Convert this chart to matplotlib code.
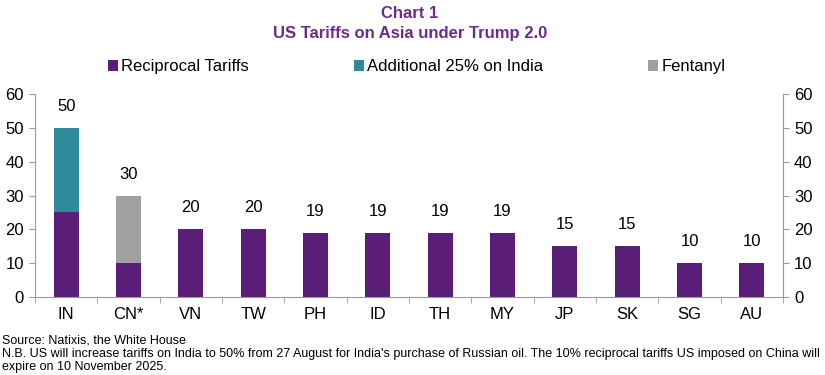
import numpy as np
import matplotlib.pyplot as plt

plt.rcParams['font.family'] = ['Liberation Sans', 'DejaVu Sans']

countries = ['IN', 'CN*', 'VN', 'TW', 'PH', 'ID', 'TH', 'MY', 'JP', 'SK', 'SG', 'AU']
reciprocal = [25, 10, 20, 20, 19, 19, 19, 19, 15, 15, 10, 10]
india_extra = [25, 0, 0, 0, 0, 0, 0, 0, 0, 0, 0, 0]
fentanyl = [0, 20, 0, 0, 0, 0, 0, 0, 0, 0, 0, 0]

purple = '#5a1e78'
teal = '#2f8a9c'
grey = '#a0a0a0'
title_col = '#6b2c8c'

fig = plt.figure(figsize=(8.25, 3.75), dpi=100)
ax = fig.add_axes([0.0424, 0.208, 0.9067, 0.541])

x = np.arange(len(countries))
rec = np.array(reciprocal)
ind = np.array(india_extra)
fen = np.array(fentanyl)
w = 0.4
ax.bar(x, rec, w, color=purple, label='Reciprocal Tariffs', zorder=2)
ax.bar(x, ind, w, bottom=rec, color=teal, label='Additional 25% on India', zorder=2)
ax.bar(x, fen, w, bottom=rec + ind, color=grey, label='Fentanyl', zorder=2)

total = rec + ind + fen
for xi, t in zip(x, total):
    ax.annotate(str(t), (xi, t), xytext=(0, 10), textcoords='offset points',
                ha='center', va='bottom', fontsize=12)

ax.set_xlim(-0.5, len(countries) - 0.5)
ax.set_ylim(0, 60)
ax.set_yticks(range(0, 61, 10))
ax.set_xticks(x)
ax.set_xticklabels(countries, fontsize=12)
ax.set_xticks(np.arange(-0.5, len(countries), 1), minor=True)
ax.tick_params(axis='x', which='major', length=0, pad=7)
ax.tick_params(axis='x', which='minor', length=4, color='#999999', direction='out')
ax.tick_params(axis='y', length=4, color='#999999', labelsize=12, pad=4)
ax.tick_params(axis='y', which='both', right=True, labelright=True)

ax.spines['top'].set_visible(False)
for s in ['left', 'right', 'bottom']:
    ax.spines[s].set_color('#999999')

fig.text(0.497, 0.965, 'Chart 1', ha='center', va='center', fontsize=12,
         fontweight='bold', color=title_col)
fig.text(0.497, 0.91, 'US Tariffs on Asia under Trump 2.0', ha='center', va='center',
         fontsize=12, fontweight='bold', color=title_col)

fig.legend(loc='center', bbox_to_anchor=(0.505, 0.822), ncol=3, frameon=False,
           fontsize=12, handlelength=0.6, handleheight=0.6, handletextpad=0.2,
           columnspacing=6.3)

fig.text(0.002, 0.093, 'Source: Natixis, the White House', fontsize=9, va='center')
fig.text(0.002, 0.057, "N.B. US will increase tariffs on India to 50% from 27 August for India's purchase of Russian oil. The 10% reciprocal tariffs US imposed on China will",
         fontsize=9, va='center')
fig.text(0.002, 0.022, 'expire on 10 November 2025.', fontsize=9, va='center')

fig.savefig('out.png', dpi=100)
